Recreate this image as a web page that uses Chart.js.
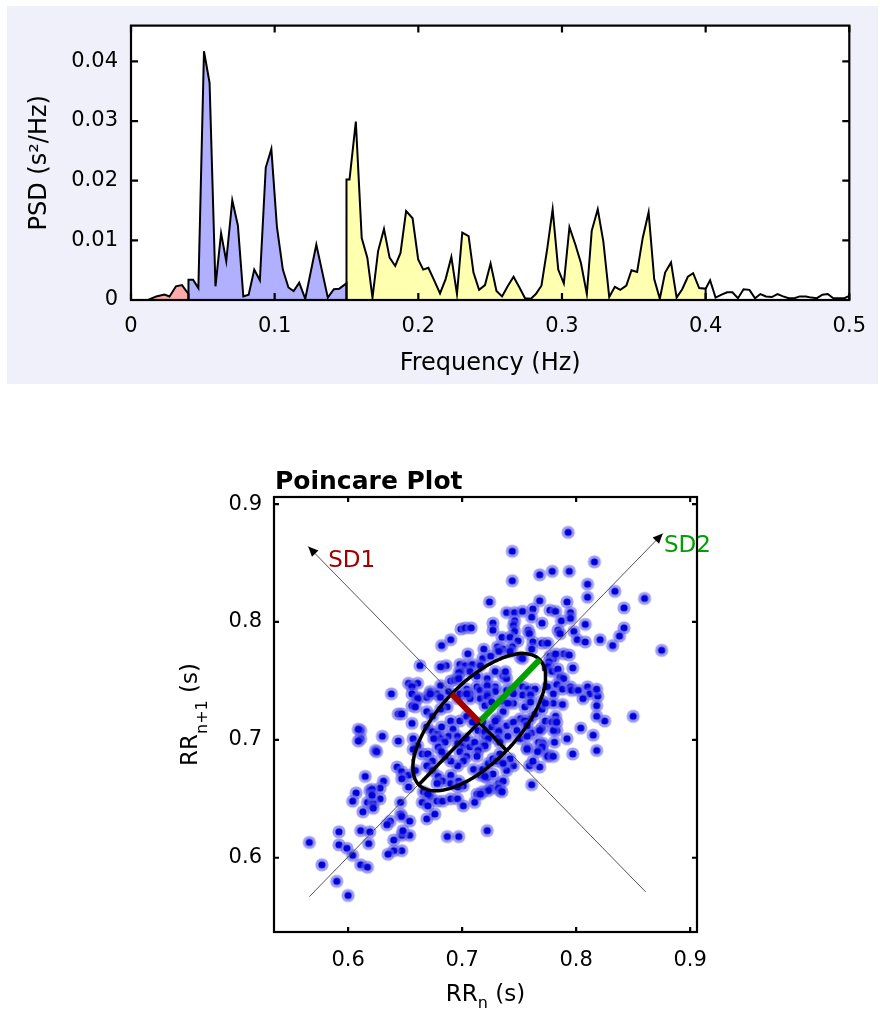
<!DOCTYPE html>
<html>
<head>
<meta charset="utf-8">
<title>HRV spectrum and Poincare plot</title>
<script src="https://cdn.jsdelivr.net/npm/chart.js@4.4.1/dist/chart.umd.min.js"></script>
<style>
  html, body { margin: 0; padding: 0; background: #fff; }
  #panel { position: absolute; left: 7px; top: 6px; width: 871px; height: 378px; background: #f0f0fb; }
  canvas { position: absolute; left: 0; }
  #psdChart { top: 0; }
  #poincareChart { top: 440px; }
</style>
</head>
<body>
<div id="panel"></div>
<canvas id="psdChart" width="880" height="390"></canvas>
<canvas id="poincareChart" width="880" height="573"></canvas>
<script>
const FONT = "'DejaVu Sans', sans-serif";

// --- spectrum: frequency (Hz) / PSD (s^2/Hz) per band ---
const vlfFreq = [0, 0.0119, 0.0176, 0.0233, 0.0268, 0.0313, 0.0355, 0.04, 0.04];
const vlfPsd  = [0, 0, 0.0006, 0.0009, 0.0006, 0.0023, 0.0025, 0.001, 0];

const lfFreq = [0.04, 0.04, 0.0432, 0.0469, 0.0508, 0.0547, 0.0588, 0.0627, 0.0663, 0.0705,
  0.0744, 0.0782, 0.0819, 0.0858, 0.0897, 0.0938, 0.0977, 0.1016, 0.1057, 0.1096,
  0.1132, 0.1171, 0.1213, 0.129, 0.137, 0.1412, 0.145, 0.15, 0.15];
const lfPsd = [0, 0.0034, 0.0034, 0.002, 0.0417, 0.0364, 0.0023, 0.0112, 0.0065, 0.0167,
  0.0125, 0.0006, 0.0009, 0.0051, 0.0033, 0.0222, 0.0253, 0.0122, 0.0051, 0.0021,
  0.0015, 0.0029, 0.0002, 0.0093, 0.0004, 0.0018, 0.0019, 0.0028, 0];

const hfFreq = [0.15, 0.15, 0.1521, 0.1565, 0.1606, 0.1645, 0.1681, 0.172, 0.1761, 0.18,
  0.1839, 0.1876, 0.1915, 0.196, 0.1999, 0.2034, 0.207, 0.2112, 0.2151, 0.219,
  0.223, 0.2269, 0.2306, 0.235, 0.2384, 0.2423, 0.2464, 0.2503, 0.2544, 0.2583,
  0.2624, 0.2663, 0.2704, 0.2743, 0.2784, 0.2818, 0.2857, 0.2898, 0.2935, 0.2974,
  0.3013, 0.3052, 0.3093, 0.3132, 0.3173, 0.3207, 0.3249, 0.3288, 0.3329, 0.3368,
  0.3406, 0.3448, 0.3484, 0.3523, 0.3562, 0.3603, 0.3642, 0.3681, 0.3718, 0.3759,
  0.3798, 0.3837, 0.3876, 0.3913, 0.3955, 0.4, 0.4];
const hfPsd = [0, 0.0202, 0.0202, 0.0299, 0.0104, 0.0071, 0.0004, 0.0082, 0.0119, 0.0071,
  0.0057, 0.0079, 0.0149, 0.0137, 0.0068, 0.0051, 0.0054, 0.0032, 0.0011, 0.0035,
  0.0072, 0.001, 0.0113, 0.0107, 0.0046, 0.0017, 0.0025, 0.0061, 0.0015, 0.0006,
  0.0024, 0.0039, 0.0021, 0.0003, 0.0002, 0.001, 0.0024, 0.0087, 0.0152, 0.0051,
  0.0028, 0.0122, 0.0093, 0.0062, 0.001, 0.0116, 0.0152, 0.0098, 0.0005, 0.0022,
  0.0017, 0.0024, 0.005, 0.0047, 0.0104, 0.0147, 0.0035, 0.0002, 0.0046, 0.0063,
  0.0004, 0.0018, 0.0039, 0.0045, 0.002, 0.0019, 0];

const restFreq = [0.4, 0.4031, 0.4069, 0.4111, 0.415, 0.4186, 0.4225, 0.4264, 0.4305, 0.4344,
  0.4381, 0.442, 0.4461, 0.45, 0.4539, 0.4579, 0.4618, 0.4655, 0.4698, 0.4735,
  0.4774, 0.4813, 0.485, 0.4889, 0.4929, 0.4966, 0.5];
const restPsd = [0.0019, 0.0033, 0.0004, 0.0009, 0.0013, 0.0013, 0.0003, 0.0018, 0.0017, 0.0003,
  0.001, 0.0006, 0.0005, 0.001, 0.0006, 0.0003, 0.0003, 0.0006, 0.0006, 0.0004,
  0.0003, 0.0009, 0.001, 0.0003, 0.0003, 0.0003, 0.0007];

const freqTicks = [0, 0.1, 0.2, 0.3, 0.4, 0.5];
const psdTicks = [0, 0.01, 0.02, 0.03, 0.04];

// --- Poincare plot: [RR_n, RR_n+1] in seconds ---
const rrPoints = [
  [0.793,0.876],[0.744,0.860],[0.816,0.851],[0.768,0.840],[0.779,0.843],[0.794,0.843],[0.744,0.835],[0.810,0.832],[0.834,0.826],[0.810,0.821],
  [0.860,0.820],[0.768,0.818],[0.792,0.817],[0.724,0.817],[0.739,0.808],[0.746,0.808],[0.753,0.809],[0.762,0.811],[0.777,0.810],[0.782,0.809],
  [0.795,0.808],[0.842,0.812],[0.727,0.799],[0.727,0.793],[0.746,0.801],[0.745,0.797],[0.746,0.792],[0.761,0.804],[0.770,0.799],[0.787,0.801],
  [0.795,0.803],[0.758,0.793],[0.759,0.790],[0.784,0.793],[0.786,0.790],[0.808,0.798],[0.798,0.792],[0.842,0.795],[0.838,0.788],[0.735,0.787],
  [0.742,0.787],[0.749,0.784],[0.762,0.783],[0.770,0.782],[0.775,0.782],[0.801,0.785],[0.808,0.783],[0.821,0.785],[0.832,0.780],[0.875,0.776],
  [0.731,0.779],[0.736,0.777],[0.732,0.775],[0.744,0.779],[0.742,0.775],[0.761,0.777],[0.751,0.770],[0.753,0.769],[0.777,0.771],[0.780,0.769],
  [0.776,0.766],[0.789,0.773],[0.794,0.772],[0.782,0.773],[0.775,0.762],[0.779,0.758],[0.784,0.760],[0.797,0.761],[0.729,0.758],[0.736,0.754],
  [0.739,0.752],[0.738,0.758],[0.786,0.753],[0.789,0.752],[0.729,0.745],[0.729,0.741],[0.739,0.742],[0.744,0.743],[0.753,0.745],[0.758,0.743],
  [0.764,0.743],[0.775,0.745],[0.783,0.747],[0.788,0.743],[0.795,0.745],[0.796,0.742],[0.802,0.742],[0.810,0.745],[0.812,0.739],[0.819,0.737],
  [0.753,0.738],[0.760,0.738],[0.780,0.739],[0.818,0.743],
  [0.699,0.794],[0.703,0.795],[0.708,0.795],[0.690,0.785],[0.682,0.780],[0.705,0.773],[0.719,0.777],[0.718,0.769],[0.725,0.771],[0.686,0.763],
  [0.681,0.762],[0.698,0.764],[0.703,0.763],[0.709,0.764],[0.663,0.763],[0.699,0.758],[0.697,0.757],[0.707,0.758],[0.716,0.763],[0.722,0.752],
  [0.713,0.754],[0.690,0.750],[0.694,0.751],[0.697,0.752],[0.653,0.748],[0.661,0.748],[0.656,0.745],[0.672,0.741],[0.681,0.746],[0.678,0.739],
  [0.638,0.739],[0.704,0.743],[0.707,0.739],[0.713,0.745],[0.716,0.742],[0.722,0.746],[0.722,0.739],[0.661,0.736],[0.669,0.736],
  [0.850,0.720],[0.825,0.716],[0.818,0.720],[0.818,0.729],[0.804,0.710],[0.815,0.704],[0.818,0.691],[0.797,0.688],[0.792,0.701],[0.783,0.708],
  [0.781,0.698],[0.782,0.720],[0.780,0.731],[0.788,0.730],[0.770,0.710],[0.761,0.706],[0.767,0.698],[0.771,0.697],[0.770,0.692],[0.776,0.687],
  [0.757,0.693],[0.759,0.678],[0.768,0.677],[0.761,0.662],[0.745,0.678],[0.742,0.684],[0.739,0.712],[0.732,0.708],[0.740,0.703],[0.720,0.703],
  [0.718,0.695],[0.722,0.668],[0.727,0.671],[0.732,0.663],[0.733,0.657],[0.725,0.659],[0.718,0.656],[0.722,0.623],[0.745,0.731],[0.755,0.728],
  [0.760,0.718],[0.770,0.733],[0.806,0.735],
  [0.656,0.739],[0.661,0.735],[0.644,0.722],[0.647,0.722],[0.656,0.729],[0.659,0.728],[0.672,0.739],[0.688,0.741],[0.681,0.736],[0.656,0.714],
  [0.669,0.724],[0.674,0.720],[0.687,0.728],[0.681,0.726],[0.696,0.735],[0.698,0.739],[0.707,0.735],[0.704,0.739],[0.716,0.735],[0.722,0.737],
  [0.720,0.729],[0.726,0.732],[0.735,0.733],[0.736,0.724],[0.731,0.718],[0.740,0.731],[0.745,0.739],[0.760,0.732],[0.751,0.718],[0.755,0.716],
  [0.764,0.722],[0.770,0.726],[0.773,0.731],[0.773,0.716],[0.779,0.715],[0.611,0.708],[0.611,0.701],[0.630,0.703],[0.644,0.699],[0.624,0.691],
  [0.657,0.701],[0.661,0.695],[0.665,0.688],[0.657,0.692],[0.669,0.711],[0.674,0.707],[0.679,0.705],[0.682,0.711],[0.690,0.716],[0.692,0.709],
  [0.688,0.703],[0.696,0.703],[0.698,0.716],[0.704,0.720],[0.709,0.715],[0.681,0.701],[0.685,0.698],[0.679,0.694],[0.675,0.701],[0.696,0.697],
  [0.701,0.695],[0.704,0.701],[0.707,0.694],[0.711,0.698],[0.714,0.708],[0.720,0.707],[0.718,0.715],[0.726,0.711],[0.729,0.716],[0.732,0.707],
  [0.731,0.701],[0.723,0.701],[0.720,0.695],[0.714,0.691],[0.713,0.686],[0.698,0.690],[0.704,0.686],[0.701,0.682],[0.696,0.678],[0.690,0.682],
  [0.685,0.686],[0.682,0.690],[0.670,0.688],[0.674,0.682],[0.669,0.678],[0.643,0.677],[0.647,0.673],[0.653,0.670],[0.659,0.674],[0.674,0.674],
  [0.679,0.669],[0.683,0.665],[0.678,0.663],[0.690,0.670],[0.690,0.663],[0.697,0.665],[0.701,0.661],[0.696,0.660],[0.710,0.675],[0.716,0.670],
  [0.718,0.675],[0.723,0.680],[0.727,0.684],[0.733,0.688],[0.720,0.669],[0.736,0.665],[0.739,0.674],[0.731,0.682],[0.736,0.680],[0.713,0.654],
  [0.723,0.657],[0.732,0.659],[0.735,0.656],[0.672,0.652],[0.678,0.648],[0.683,0.648],[0.690,0.650],[0.696,0.650],[0.666,0.656],[0.670,0.654],
  [0.665,0.647],[0.701,0.644],[0.631,0.665],[0.628,0.659],[0.619,0.657],[0.628,0.650],[0.617,0.647],[0.622,0.646],[0.615,0.669],[0.653,0.660],
  [0.647,0.667],[0.745,0.715],[0.748,0.708],[0.751,0.701],[0.757,0.703],[0.768,0.708],[0.770,0.694],[0.766,0.690],[0.757,0.692],[0.762,0.682],
  [0.775,0.686],[0.780,0.686],[0.733,0.698],[0.780,0.708],[0.783,0.715],[0.757,0.712],
  [0.609,0.709],[0.609,0.699],[0.625,0.690],[0.607,0.655],[0.604,0.648],[0.621,0.658],[0.621,0.653],[0.622,0.642],[0.613,0.639],[0.646,0.647],
  [0.646,0.637],[0.647,0.635],[0.654,0.631],[0.637,0.631],[0.634,0.628],[0.654,0.619],[0.647,0.619],[0.648,0.623],[0.640,0.615],[0.647,0.606],
  [0.640,0.606],[0.635,0.603],[0.592,0.622],[0.611,0.623],[0.619,0.622],[0.618,0.612],[0.592,0.611],[0.599,0.608],[0.604,0.602],[0.611,0.594],
  [0.617,0.592],[0.566,0.613],[0.577,0.594],[0.590,0.580],[0.600,0.568],[0.669,0.633],[0.687,0.618],[0.697,0.618],[0.676,0.637],[0.711,0.647],
  [0.716,0.654],[0.670,0.644]
];
const rrTicks = [0.6, 0.7, 0.8, 0.9];

// SD1 / SD2 ellipse (s), guide lines and labels
const ellipseCenter = 0.715;
const sd1 = 0.034;
const sd2 = 0.075;
const sd2AxisX = [0.566, 0.876];
const sd2AxisY = [0.567, 0.875];
const sd1AxisX = [0.861, 0.565];
const sd1AxisY = [0.571, 0.864];
const sdLabels = ['SD1', 'SD2'];
const sdLabelX = [0.5825, 0.877];
const sdLabelY = [0.852, 0.864];

Chart.defaults.font.family = FONT;
Chart.defaults.color = '#000';

const toXY = (xs, ys) => xs.map((x, i) => ({ x, y: ys[i] }));

// white plot area, black box, inward ticks on all four sides
const frameTicks = {
  id: 'frameTicks',
  beforeDraw(chart) {
    const { ctx, chartArea: a } = chart;
    ctx.save();
    ctx.fillStyle = '#fff';
    ctx.fillRect(a.left, a.top, a.right - a.left, a.bottom - a.top);
    ctx.restore();
  },
  afterDatasetsDraw(chart, args, opts) {
    const { ctx, chartArea: a, scales: { x, y } } = chart;
    ctx.save();
    ctx.strokeStyle = '#000';
    ctx.lineWidth = opts.width;
    ctx.beginPath();
    x.ticks.forEach(t => {
      const px = x.getPixelForValue(t.value);
      ctx.moveTo(px, a.bottom); ctx.lineTo(px, a.bottom - opts.len);
      ctx.moveTo(px, a.top); ctx.lineTo(px, a.top + opts.len);
    });
    y.ticks.forEach(t => {
      const py = y.getPixelForValue(t.value);
      ctx.moveTo(a.left, py); ctx.lineTo(a.left + opts.len, py);
      ctx.moveTo(a.right, py); ctx.lineTo(a.right - opts.len, py);
    });
    ctx.stroke();
    ctx.strokeRect(a.left, a.top, a.right - a.left, a.bottom - a.top);
    ctx.restore();
  }
};

// ---------- top: PSD ----------
const bandStyle = (fillColor) => ({
  fill: fillColor ? 'origin' : false,
  backgroundColor: fillColor || 'transparent',
  borderColor: '#000',
  borderWidth: 2,
  pointRadius: 0,
  tension: 0
});

new Chart(document.getElementById('psdChart'), {
  type: 'line',
  data: {
    datasets: [
      { label: 'VLF', data: toXY(vlfFreq, vlfPsd), ...bandStyle('#ffaaaa') },
      { label: 'LF', data: toXY(lfFreq, lfPsd), ...bandStyle('#b0b0ff') },
      { label: 'HF', data: toXY(hfFreq, hfPsd), ...bandStyle('#ffffb0') },
      { label: 'rest', data: toXY(restFreq, restPsd), ...bandStyle(null) }
    ]
  },
  options: {
    responsive: false,
    animation: false,
    layout: { padding: { left: 0, top: 22, right: 19, bottom: 0 } },
    plugins: {
      legend: { display: false },
      tooltip: { enabled: false },
      filler: { drawTime: 'beforeDatasetsDraw' },
      frameTicks: { width: 2.2, len: 7 }
    },
    scales: {
      x: {
        type: 'linear', min: 0, max: 0.5,
        grid: { display: false, drawTicks: false },
        border: { display: false },
        afterBuildTicks: s => { s.ticks = freqTicks.map(v => ({ value: v })); },
        afterFit: s => { s.height = 90; },
        ticks: { callback: v => String(v), font: { size: 21 }, padding: 14, maxRotation: 0 },
        title: { display: true, text: 'Frequency (Hz)', font: { size: 24 }, padding: { top: 0, bottom: 12 } }
      },
      y: {
        min: 0, max: 0.046,
        grid: { display: false, drawTicks: false },
        border: { display: false },
        afterBuildTicks: s => { s.ticks = psdTicks.map(v => ({ value: v })); },
        afterFit: s => { s.width = 131; },
        ticks: { callback: v => String(v), font: { size: 21 }, padding: 13 },
        title: { display: true, text: 'PSD (s\u00b2/Hz)', font: { size: 24 }, padding: { top: 25, bottom: 0 } }
      }
    }
  },
  plugins: [frameTicks]
});

// ---------- bottom: Poincare ----------
const dot = document.createElement('canvas');
dot.width = 16; dot.height = 16;
{
  const d = dot.getContext('2d');
  d.fillStyle = 'rgba(95,95,232,0.6)';
  d.beginPath(); d.arc(8, 8, 6.6, 0, Math.PI * 2); d.fill();
  d.fillStyle = '#0000dc';
  d.beginPath(); d.arc(8, 8, 3.6, 0, Math.PI * 2); d.fill();
}

const r2 = Math.SQRT2;
const ellipsePts = [];
for (let k = 0; k <= 120; k++) {
  const t = 2 * Math.PI * k / 120;
  const u = sd2 * Math.cos(t), v = sd1 * Math.sin(t);
  ellipsePts.push({ x: ellipseCenter + (u - v) / r2, y: ellipseCenter + (u + v) / r2 });
}
const c = { x: ellipseCenter, y: ellipseCenter };
const sd2Low = { x: ellipseCenter - sd2 / r2, y: ellipseCenter - sd2 / r2 };
const sd2High = { x: ellipseCenter + sd2 / r2, y: ellipseCenter + sd2 / r2 };
const sd1Up = { x: ellipseCenter - sd1 / r2, y: ellipseCenter + sd1 / r2 };
const sd1Down = { x: ellipseCenter + sd1 / r2, y: ellipseCenter - sd1 / r2 };

const lineSet = (data, color, width, order, extra) => Object.assign({
  data, showLine: true, borderColor: color, borderWidth: width,
  pointRadius: 0, fill: false, tension: 0, order
}, extra || {});

const arrowHeads = {
  id: 'arrowHeads',
  afterDatasetsDraw(chart) {
    const ctx = chart.ctx;
    chart.data.datasets.forEach((ds, i) => {
      if (!ds.arrowEnd) return;
      const pts = chart.getDatasetMeta(i).data;
      const p1 = pts[pts.length - 2], p2 = pts[pts.length - 1];
      const ang = Math.atan2(p2.y - p1.y, p2.x - p1.x);
      ctx.save();
      ctx.translate(p2.x, p2.y);
      ctx.rotate(ang);
      ctx.beginPath();
      ctx.moveTo(0, 0); ctx.lineTo(-10, -4.5); ctx.lineTo(-10, 4.5); ctx.closePath();
      ctx.fillStyle = '#000';
      ctx.fill();
      ctx.restore();
    });
  }
};

function drawParts(ctx, parts, x, y, angle) {
  ctx.save();
  ctx.translate(x, y);
  ctx.rotate(angle);
  ctx.textBaseline = 'alphabetic';
  ctx.fillStyle = '#000';
  let w = 0;
  parts.forEach(p => { ctx.font = `${p.size}px ${FONT}`; p.w = ctx.measureText(p.text).width; w += p.w; });
  let cx = -w / 2;
  parts.forEach(p => {
    ctx.font = `${p.size}px ${FONT}`;
    ctx.fillText(p.text, cx, p.dy || 0);
    cx += p.w;
  });
  ctx.restore();
}

const poincareDecor = {
  id: 'poincareDecor',
  afterDraw(chart) {
    const { ctx, chartArea: a, scales: { x, y } } = chart;
    ctx.save();
    ctx.fillStyle = '#000';
    ctx.font = `bold 25px ${FONT}`;
    ctx.textBaseline = 'alphabetic';
    ctx.fillText('Poincare Plot', a.left + 1, a.top - 8);

    drawParts(ctx, [{ text: 'RR', size: 23 }, { text: 'n', size: 16, dy: 7 }, { text: ' (s)', size: 23 }],
      (a.left + a.right) / 2, a.bottom + 69, 0);
    drawParts(ctx, [{ text: 'RR', size: 23 }, { text: 'n+1', size: 16, dy: 10 }, { text: ' (s)', size: 23 }],
      a.left - 77, (a.top + a.bottom) / 2, -Math.PI / 2);

    ctx.font = `23px ${FONT}`;
    ctx.textBaseline = 'middle';
    const colors = ['#a00000', '#00a000'];
    sdLabels.forEach((t, i) => {
      ctx.fillStyle = colors[i];
      ctx.fillText(t, x.getPixelForValue(sdLabelX[i]), y.getPixelForValue(sdLabelY[i]));
    });
    ctx.restore();
  }
};

const rrAxis = (fitFn, pad) => ({
  type: 'linear',
  grid: { display: false, drawTicks: false },
  border: { display: false },
  afterBuildTicks: s => { s.ticks = rrTicks.map(v => ({ value: v })); },
  afterFit: fitFn,
  ticks: { callback: v => String(v), font: { size: 21 }, padding: pad, maxRotation: 0 }
});

new Chart(document.getElementById('poincareChart'), {
  type: 'scatter',
  data: {
    datasets: [
      lineSet([c, sd1Up], '#a00000', 6, 1),
      lineSet([c, sd2High], '#00a000', 6, 1),
      lineSet([sd2Low, c], '#000', 3.5, 2),
      lineSet([c, sd1Down], '#000', 3.5, 2),
      lineSet(ellipsePts, '#000', 3.5, 3),
      lineSet(toXY(sd2AxisX, sd2AxisY), '#555', 1, 5, { arrowEnd: true }),
      lineSet(toXY(sd1AxisX, sd1AxisY), '#555', 1, 5, { arrowEnd: true }),
      {
        label: 'RR',
        data: rrPoints.map(([px, py]) => ({ x: px, y: py })),
        pointStyle: dot,
        pointRadius: 6,
        order: 10
      }
    ]
  },
  options: {
    responsive: false,
    animation: false,
    layout: { padding: { left: 0, top: 57, right: 183, bottom: 0 } },
    plugins: {
      legend: { display: false },
      tooltip: { enabled: false },
      frameTicks: { width: 2.2, len: 5 }
    },
    scales: {
      x: Object.assign(rrAxis(s => { s.height = 81; }, 16), { min: 0.535, max: 0.906 }),
      y: Object.assign(rrAxis(s => { s.width = 274; }, 12), { min: 0.537, max: 0.906 })
    }
  },
  plugins: [frameTicks, arrowHeads, poincareDecor]
});
</script>
</body>
</html>
